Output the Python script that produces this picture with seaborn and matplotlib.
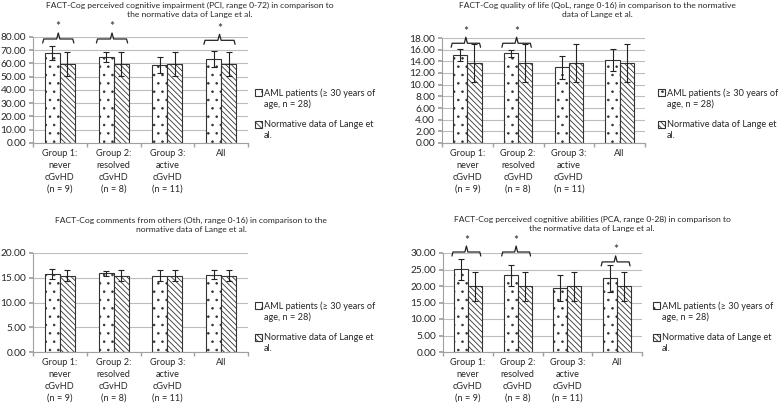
import matplotlib
matplotlib.use("Agg")
import matplotlib.pyplot as plt
import matplotlib.patches as mpatches
import numpy as np
import pandas as pd
import seaborn as sns

GROUPS = [
    "Group 1:\nnever\ncGvHD\n(n = 9)",
    "Group 2:\nresolved\ncGvHD\n(n = 8)",
    "Group 3:\nactive\ncGvHD\n(n = 11)",
    "All",
]
SERIES = ["AML patients (≥ 30 years of\nage, n = 28)", "Normative data of Lange et\nal."]

# PCI
pci_aml = [67.6, 64.8, 58.9, 63.5]
pci_aml_sd = [5.3, 3.8, 5.7, 6.0]
pci_norm = [59.5, 59.5, 59.5, 59.5]
pci_norm_sd = [9.0, 9.0, 9.0, 9.0]
pci_sig = [0, 1, 3]
pci_sig_y = [78.5, 78.5, 77.5]

# QoL
qol_aml = [15.1, 15.4, 12.95, 14.2]
qol_aml_sd = [1.05, 0.6, 1.95, 1.85]
qol_norm = [13.7, 13.7, 13.7, 13.7]
qol_norm_sd = [3.2, 3.2, 3.2, 3.2]
qol_sig = [0, 1]
qol_sig_y = [17.1, 17.1]

# Oth
oth_aml = [15.7, 15.9, 15.4, 15.6]
oth_aml_sd = [1.05, 0.5, 1.1, 0.9]
oth_norm = [15.4, 15.4, 15.4, 15.4]
oth_norm_sd = [1.15, 1.15, 1.15, 1.15]
oth_sig = []
oth_sig_y = []

# PCA
pca_aml = [25.1, 23.2, 19.4, 22.3]
pca_aml_sd = [3.2, 3.2, 3.8, 4.1]
pca_norm = [19.9, 19.9, 19.9, 19.9]
pca_norm_sd = [4.4, 4.4, 4.4, 4.4]
pca_sig = [0, 1, 3]
pca_sig_y = [30.3, 30.3, 27.3]

TITLES = [
    "FACT-Cog perceived cognitive impairment (PCI, range 0-72) in comparison to\nthe normative data of Lange et al.",
    "FACT-Cog quality of life (QoL, range 0-16) in comparison to the normative\ndata of Lange et al.",
    "FACT-Cog comments from others (Oth, range 0-16) in comparison to the\nnormative data of Lange et al.",
    "FACT-Cog perceived cognitive abilities (PCA, range 0-28) in comparison to\nthe normative data of Lange et al.",
]

W, H = 784, 408
EDGE = "#333333"
HATCHES = ["..", "\\\\\\\\\\\\"]


def px(x, y):
    return x / W, 1 - y / H


def draw_legend(fig, x, y):
    # two legend entries: hatched square + wrapped label, square next to first line
    for k in range(2):
        top = y + k * 32
        sq = mpatches.Rectangle(px(x, top + 7), 7 / W, 7 / H, transform=fig.transFigure,
                                facecolor="white", edgecolor=EDGE, hatch=HATCHES[k],
                                linewidth=0.8)
        fig.add_artist(sq)
        fig.text(*px(x + 9, top - 1), SERIES[k], ha="left", va="top", fontsize=6.6,
                 linespacing=1.3)


def draw_panel(fig, rect, title, title_xy, legend_xy, aml, aml_sd, norm, norm_sd,
               sig, sig_y, ymax, step):
    ax = fig.add_axes(rect)
    df = pd.DataFrame({
        "group": GROUPS * 2,
        "series": [SERIES[0]] * 4 + [SERIES[1]] * 4,
        "value": list(aml) + list(norm),
    })
    sns.barplot(data=df, x="group", y="value", hue="series", ax=ax, width=0.56,
                palette=["white", "white"], errorbar=None, legend=False,
                edgecolor=EDGE, linewidth=0.8, zorder=2)
    bars = list(ax.containers)
    sds = [aml_sd, norm_sd]
    for k, cont in enumerate(bars):
        xs = []
        for p in cont.patches:
            p.set_hatch(HATCHES[k])
            p.set_edgecolor(EDGE)
            xs.append(p.get_x() + p.get_width() / 2)
        vals = [aml, norm][k]
        ax.errorbar(xs, vals, yerr=sds[k], fmt="none", ecolor="#222222",
                    elinewidth=0.8, capsize=2.5, capthick=0.8, zorder=3)

    ax.set_ylim(0, ymax)
    ax.set_xlim(-0.5, 3.5)
    ax.set_yticks(np.arange(0, ymax + step / 2, step))
    ax.yaxis.set_major_formatter(matplotlib.ticker.FormatStrFormatter("%.2f"))
    ax.set_xlabel("")
    ax.set_ylabel("")
    ax.grid(axis="y", color="#bdbdbd", linewidth=0.8, zorder=0)
    ax.grid(axis="x", visible=False)
    ax.set_axisbelow(True)
    for s in ["top", "right"]:
        ax.spines[s].set_visible(False)
    for s in ["left", "bottom"]:
        ax.spines[s].set_color("#a0a0a0")
        ax.spines[s].set_linewidth(0.8)
    ax.tick_params(axis="y", labelsize=7.3, length=3, color="#a0a0a0", pad=2, left=True)
    ax.tick_params(axis="x", labelsize=6.6, length=0, pad=4)
    ax.set_xticks(np.arange(-0.5, 4, 1), minor=True)
    ax.tick_params(axis="x", which="minor", length=3, color="#a0a0a0", bottom=True)
    for lab in ax.get_xticklabels():
        lab.set_linespacing(1.45)

    # significance braces
    upp = ymax / (rect[3] * H)
    bar_w = bars[0].patches[0].get_width()
    for gi, y in zip(sig, sig_y):
        x0 = bars[0].patches[gi].get_x() - 0.04
        x1 = bars[1].patches[gi].get_x() + bar_w - 0.02
        xm = (x0 + x1) / 2
        d = 4 * upp
        tip = 6 * upp
        xs = [x0, x0 + 0.02, xm - 0.03, xm, xm + 0.03, x1 - 0.02, x1]
        ys = [y - d, y, y, y + tip, y, y, y - d]
        ax.plot(xs, ys, color="#222222", linewidth=0.9, clip_on=False, zorder=4)
        ax.text(xm, y + tip + 2.5 * upp, "*", ha="center", va="baseline", fontsize=8.5,
                clip_on=False)

    fig.text(*px(*title_xy), title, ha="center", va="top", fontsize=6.1,
             linespacing=1.35)
    draw_legend(fig, *legend_xy)
    return ax


def main():
    sns.set_theme(style="white")
    plt.rcParams["font.family"] = ["Lato", "DejaVu Sans"]
    plt.rcParams["hatch.linewidth"] = 0.6
    fig = plt.figure(figsize=(W / 100, H / 100), dpi=100)

    draw_panel(fig, [33 / W, 1 - 143 / H, 215 / W, 106 / H], TITLES[0], (190, 2), (255, 89),
               pci_aml, pci_aml_sd, pci_norm, pci_norm_sd, pci_sig, pci_sig_y, 80, 10)
    draw_panel(fig, [442 / W, 1 - 143 / H, 203 / W, 105 / H], TITLES[1], (597, 2), (658, 89),
               qol_aml, qol_aml_sd, qol_norm, qol_norm_sd, qol_sig, qol_sig_y, 18, 2)
    draw_panel(fig, [33 / W, 1 - 352 / H, 215 / W, 99 / H], TITLES[2], (191, 217), (255, 302),
               oth_aml, oth_aml_sd, oth_norm, oth_norm_sd, oth_sig, oth_sig_y, 20, 5)
    draw_panel(fig, [443 / W, 1 - 352 / H, 199 / W, 99 / H], TITLES[3], (592, 216), (653, 302),
               pca_aml, pca_aml_sd, pca_norm, pca_norm_sd, pca_sig, pca_sig_y, 30, 5)

    fig.savefig("out.png", dpi=100, facecolor="white")
    plt.close(fig)


if __name__ == "__main__":
    main()
